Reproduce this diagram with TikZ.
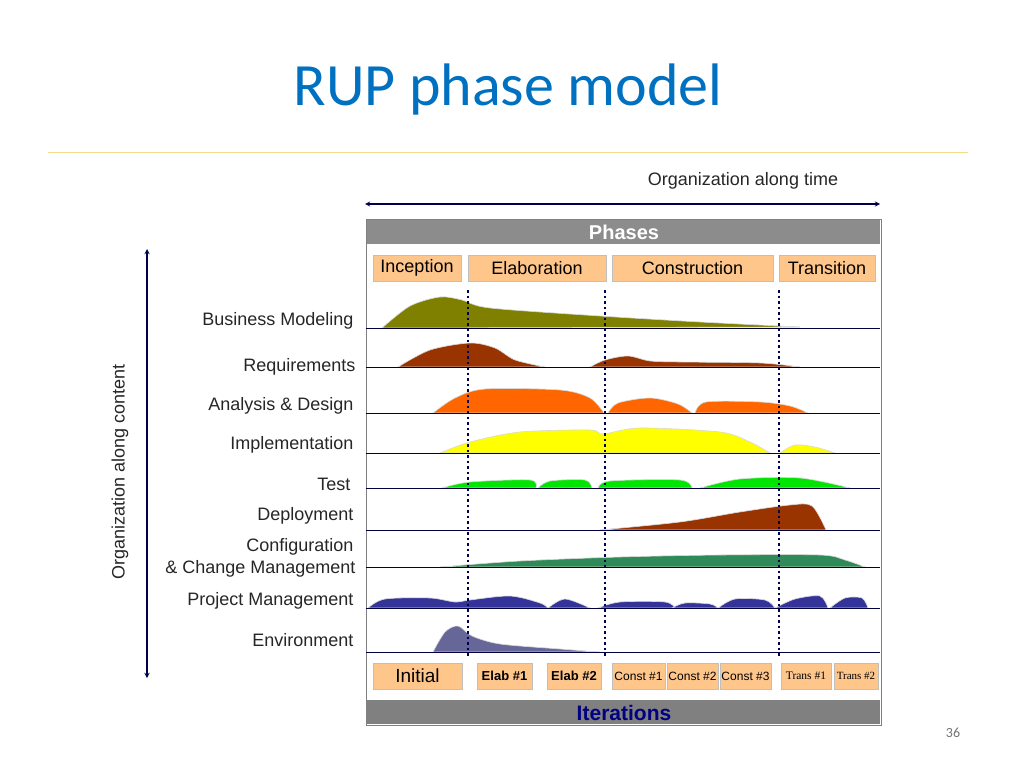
\documentclass[tikz,border=0pt]{standalone}
\usepackage{fontspec}
\setmainfont{Liberation Sans}
\newfontfamily\calib{Carlito}
\newfontfamily\tms{Liberation Serif}
\begin{document}
\begin{tikzpicture}[x=1pt,y=-1pt,
  lab/.style={anchor=east,font=\fontsize{18}{20}\selectfont,text=black!85},
  pbox/.style={draw=black!25,fill=orange!45!white,minimum height=26pt,inner sep=0pt,font=\fontsize{18}{20}\selectfont},
  ibox/.style={draw=black!25,fill=orange!45!white,minimum height=26pt,inner sep=0pt},
  base/.style={draw=black!75!blue,line width=1pt},
  vdot/.style={draw=blue!30!black,line width=2.5pt,dash pattern=on 2.5pt off 3pt},
  hump/.style={draw=white!85!black,line width=0.6pt}]
\useasboundingbox (0,0) rectangle (1024,768);
\definecolor{ttl}{RGB}{0,112,192}
\definecolor{olv}{RGB}{128,128,0}
\definecolor{drd}{RGB}{153,51,0}
\definecolor{org}{RGB}{255,102,0}
\definecolor{ylw}{RGB}{255,255,0}
\definecolor{grn}{RGB}{0,230,0}
\definecolor{cfg}{RGB}{46,139,87}
\definecolor{nvy}{RGB}{51,51,153}
\definecolor{slt}{RGB}{102,102,153}
\node (title) at (508,90) {\calib\fontsize{60}{64}\selectfont\color{ttl}RUP phase model};
\draw[color={rgb,255:red,245;green,220;blue,140},line width=1pt] (48,152) -- (968,152);
\node (otime) at (743,181) {\fontsize{18}{20}\selectfont\color{black!85}Organization along time};
\coordinate (ta) at (365,204); \coordinate (tb) at (880,204);
\draw[<->,>=stealth,line width=1.3pt,blue!30!black] (ta) -- (tb);
\coordinate (ca) at (147,249); \coordinate (cb) at (147,678);
\draw[<->,>=stealth,line width=1.3pt,blue!30!black] (ca) -- (cb);
\node[rotate=90] (ocont) at (120,472) {\fontsize{18}{20}\selectfont\color{black!85}Organization along content};
% frame
\draw[black!50,fill=white] (366,219) rectangle (881,725);
\fill[black!45] (367,220) rectangle (880,244);
\node (phases) at (624,232) {\fontsize{20}{22}\selectfont\bfseries\color{white}Phases};
\fill[black!50] (367,700) rectangle (880,724);
\node (iters) at (624,713) {\fontsize{21}{23}\selectfont\bfseries\color{blue!50!black}Iterations};
% phase boxes
\node[pbox,minimum width=88pt] (inc) at (417,268) {Inception};
\node[pbox,minimum width=138pt] (ela) at (537,268) {Elaboration};
\node[pbox,minimum width=161pt] (con) at (692.5,268) {Construction};
\node[pbox,minimum width=96pt] (tra) at (827,268) {Transition};
% humps
\fill[olv,hump] plot[smooth,tension=0.5] coordinates {(382,328) (410,306) (440,297) (462,300) (490,308) (600,316) (700,322) (800,327)} -- cycle;
\fill[drd,hump] plot[smooth,tension=0.5] coordinates {(398,367) (430,350) (470,343) (495,348) (515,360) (545,367)} -- cycle;
\fill[drd,hump] plot[smooth,tension=0.5] coordinates {(590,367) (605,360) (628,356) (650,361) (680,362) (760,363) (800,367)} -- cycle;
\fill[org,hump] plot[smooth,tension=0.5] coordinates {(433,413) (455,398) (485,389) (560,390) (590,398) (604,413)} -- cycle;
\fill[org,hump] plot[smooth,tension=0.5] coordinates {(608,413) (618,403) (650,398) (678,404) (692,413)} -- cycle;
\fill[org,hump] plot[smooth,tension=0.5] coordinates {(695,413) (706,402) (760,402) (790,406) (808,413)} -- cycle;
\fill[ylw,hump] plot[smooth,tension=0.5] coordinates {(440,453) (470,442) (520,432) (590,430) (603,434) (640,428) (720,432) (750,442) (770,453)} -- cycle;
\fill[ylw,hump] plot[smooth,tension=0.5] coordinates {(780,453) (795,445) (815,447) (835,453)} -- cycle;
\fill[grn,hump] plot[smooth,tension=0.5] coordinates {(442,488) (470,482) (530,480) (536,488)} -- cycle;
\fill[grn,hump] plot[smooth,tension=0.5] coordinates {(538,488) (550,481) (585,480) (592,488)} -- cycle;
\fill[grn,hump] plot[smooth,tension=0.5] coordinates {(598,488) (610,481) (680,480) (692,488)} -- cycle;
\fill[grn,hump] plot[smooth,tension=0.5] coordinates {(700,488) (740,479) (800,478) (850,488)} -- cycle;
\fill[drd,hump] plot[smooth,tension=0.5] coordinates {(600,530) (680,522) (740,512) (790,505) (812,506) (826,530)} -- cycle;
\fill[cfg,hump] plot[smooth,tension=0.5] coordinates {(440,567) (520,561) (620,557) (720,555) (820,555) (845,560) (865,567)} -- cycle;
\fill[nvy,hump] plot[smooth,tension=0.5] coordinates {(368,608) (385,599) (430,598) (455,602) (470,600) (510,596) (540,603) (548,608)} -- cycle;
\fill[nvy,hump] plot[smooth,tension=0.5] coordinates {(548,608) (565,599) (590,608)} -- cycle;
\fill[nvy,hump] plot[smooth,tension=0.5] coordinates {(598,608) (620,602) (665,602) (675,608)} -- cycle;
\fill[nvy,hump] plot[smooth,tension=0.5] coordinates {(672,608) (685,603) (710,604) (718,608)} -- cycle;
\fill[nvy,hump] plot[smooth,tension=0.5] coordinates {(718,608) (735,599) (765,600) (775,608)} -- cycle;
\fill[nvy,hump] plot[smooth,tension=0.5] coordinates {(775,608) (795,599) (820,596) (828,608)} -- cycle;
\fill[nvy,hump] plot[smooth,tension=0.5] coordinates {(830,608) (845,598) (862,598) (868,608)} -- cycle;
\fill[slt,hump] plot[smooth,tension=0.5] coordinates {(433,652) (445,632) (458,626) (472,636) (500,644) (560,649) (600,652)} -- cycle;
% baselines
\foreach \y in {328,367,413,453,488,530,567,608,652} \draw[base] (366,\y) -- (880,\y);
% dotted dividers
\draw[vdot] (468,290) -- (468,656);
\draw[vdot] (605,290) -- (605,656);
\draw[vdot] (779,290) -- (779,656);
% labels
\node[lab] (l1) at (357,321) {Business Modeling};
\node[lab] (l2) at (359,367) {Requirements};
\node[lab] (l3) at (357,406) {Analysis \& Design};
\node[lab] (l4) at (357,445) {Implementation};
\node[lab] (l5) at (354,484) {Test};
\node[lab] (l6) at (357,516) {Deployment};
\node[lab] (l7) at (357,547) {Configuration};
\node[lab] (l7b) at (359,569) {\& Change Management};
\node[lab] (l8) at (357,601) {Project Management};
\node[lab] (l9) at (357,640) {Environment};
% iterations
\node[ibox,minimum width=89pt,font=\fontsize{19}{21}\selectfont] (i1) at (417.5,676) {Initial};
\node[ibox,minimum width=55pt,font=\fontsize{13}{15}\selectfont\bfseries] (i2) at (504.5,676) {Elab \#1};
\node[ibox,minimum width=54pt,font=\fontsize{13}{15}\selectfont\bfseries] (i3) at (574,676) {Elab \#2};
\node[ibox,minimum width=53pt,font=\fontsize{12}{14}\selectfont] (i4) at (638.5,676) {Const \#1};
\node[ibox,minimum width=51pt,font=\fontsize{12}{14}\selectfont] (i5) at (692.5,676) {Const \#2};
\node[ibox,minimum width=51pt,font=\fontsize{12}{14}\selectfont] (i6) at (745.5,676) {Const \#3};
\node[ibox,minimum width=50pt,font=\tms\fontsize{11.5}{13}\selectfont] (i7) at (806,676) {Trans \#1};
\node[ibox,minimum width=44pt,font=\tms\fontsize{11}{13}\selectfont] (i8) at (856,676) {Trans \#2};
\node (pg) at (953,733) {\calib\fontsize{14}{16}\selectfont\color{black!55}36};
\end{tikzpicture}
\end{document}
